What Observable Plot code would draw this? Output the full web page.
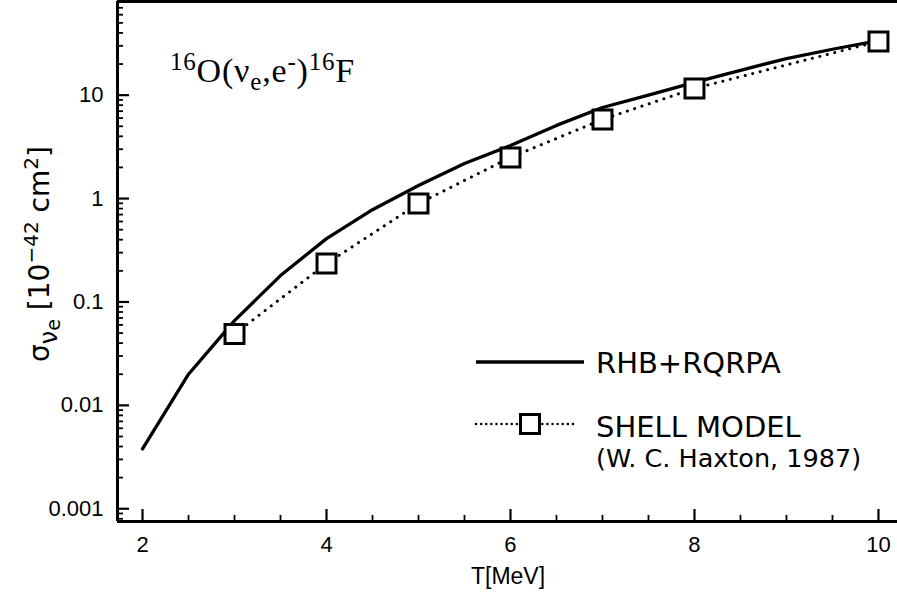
<!DOCTYPE html>
<html>
<head>
<meta charset="utf-8">
<script src="https://cdn.jsdelivr.net/npm/d3@7"></script>
<script src="https://cdn.jsdelivr.net/npm/@observablehq/plot@0.6"></script>
<style>
  html, body { margin: 0; padding: 0; background: #fff; }
  #chart svg { display: block; }
</style>
</head>
<body>
<div id="chart"></div>
<script>
// ---- data ----
const rhbT = [2, 2.5, 3, 3.5, 4, 4.5, 5, 5.5, 6, 6.5, 7, 7.5, 8, 8.5, 9, 9.5, 10];
const rhbSigma = [0.0038, 0.020, 0.066, 0.18, 0.41, 0.78, 1.34, 2.18, 3.26, 5.1, 7.6, 10.0, 13.3, 17.4, 22.6, 27.8, 33.6];
const shellT = [3, 4, 5, 6, 7, 8, 10];
const shellSigma = [0.049, 0.235, 0.895, 2.5, 5.82, 11.6, 33.1];

const xTicks = [2, 4, 6, 8, 10];
const xTickLabels = ["2", "4", "6", "8", "10"];
const xMinorTicks = [2.5, 3, 3.5, 4.5, 5, 5.5, 6.5, 7, 7.5, 8.5, 9, 9.5];
const yTicks = [0.001, 0.01, 0.1, 1, 10];
const yTickLabels = ["0.001", "0.01", "0.1", "1", "10"];
const yMinorTicks = [0.0008, 0.0009,
  0.002, 0.003, 0.004, 0.005, 0.006, 0.007, 0.008, 0.009,
  0.02, 0.03, 0.04, 0.05, 0.06, 0.07, 0.08, 0.09,
  0.2, 0.3, 0.4, 0.5, 0.6, 0.7, 0.8, 0.9,
  2, 3, 4, 5, 6, 7, 8, 9,
  20, 30, 40, 50, 60, 70, 80];

const xDomain = [1.728, 10.207];
const yDomain = [0.000753, 80.5];

const W = 897, H = 599, ML = 117, MR = 0, MT = 1, MB = 78;
const plotW = W - ML - MR, plotH = H - MT - MB;
const MAJOR = 12, MINOR = 6;
const TICKCOLOR = "black";

const rhb = rhbT.map((t, i) => ({T: t, sigma: rhbSigma[i]}));
const shell = shellT.map((t, i) => ({T: t, sigma: shellSigma[i]}));

const xFmt = d => xTickLabels[xTicks.indexOf(d)] ?? "";
const yFmt = d => yTickLabels[yTicks.findIndex(v => Math.abs(v - d) / v < 1e-9)] ?? "";

const chart = Plot.plot({
  width: W,
  height: H,
  marginLeft: ML,
  marginRight: MR,
  marginTop: MT,
  marginBottom: MB,
  style: {fontFamily: "'Liberation Sans', Arial, sans-serif", fontSize: "22px", background: "#fff", color: "#000"},
  x: {domain: xDomain},
  y: {type: "log", domain: yDomain},
  marks: [
    // tick labels
    Plot.axisX({ticks: xTicks, tickSize: 0, tickPadding: 15, tickFormat: xFmt, fontSize: 22, label: null}),
    Plot.axisY({ticks: yTicks, tickSize: 0, tickPadding: 14, tickFormat: yFmt, fontSize: 22, label: null}),
    // frame lines
    Plot.ruleX([xDomain[0]], {strokeWidth: 3}),
    Plot.ruleY([yDomain[0], yDomain[1]], {strokeWidth: 3}),
    // inward ticks
    Plot.ruleX(xTicks, {x: d => d, insetTop: plotH - MAJOR, stroke: TICKCOLOR, strokeWidth: 2.2}),
    Plot.ruleX(xMinorTicks, {x: d => d, insetTop: plotH - MINOR, stroke: TICKCOLOR, strokeWidth: 1.8}),
    Plot.ruleY(yTicks, {y: d => d, insetRight: plotW - MAJOR, stroke: TICKCOLOR, strokeWidth: 2.2}),
    Plot.ruleY(yMinorTicks, {y: d => d, insetRight: plotW - MINOR, stroke: TICKCOLOR, strokeWidth: 1.8}),
    // data
    Plot.line(rhb, {x: "T", y: "sigma", stroke: "black", strokeWidth: 3.3, strokeLinejoin: "round", strokeLinecap: "round"}),
    Plot.line(shell, {x: "T", y: "sigma", stroke: "black", strokeWidth: 3, strokeDasharray: "0.1 7.6", strokeLinecap: "round"}),
    Plot.dot(shell, {x: "T", y: "sigma", symbol: "square", r: 10.7, fill: "white", stroke: "black", strokeWidth: 3})
  ]
});
document.getElementById("chart").appendChild(chart);

const svg = d3.select(chart);

// reaction title
const title = svg.append("text")
  .attr("x", 170).attr("y", 82)
  .attr("text-anchor", "start")
  .attr("font-family", "'Liberation Serif', 'Times New Roman', serif")
  .attr("font-size", 34).attr("letter-spacing", 0.8).attr("fill", "black");
title.append("tspan").attr("font-size", 25).attr("dy", -12).text("16");
title.append("tspan").attr("dy", 12).text("O(ν");
title.append("tspan").attr("font-size", 25).attr("dy", 8).text("e");
title.append("tspan").attr("dy", -8).text(",e");
title.append("tspan").attr("font-size", 25).attr("dy", -12).text("-");
title.append("tspan").attr("dy", 12).text(")");
title.append("tspan").attr("font-size", 25).attr("dy", -12).text("16");
title.append("tspan").attr("dy", 12).text("F");

// y axis title
const yl = svg.append("text")
  .attr("transform", "translate(49,254) rotate(-90)")
  .attr("text-anchor", "middle")
  .attr("font-family", "'DejaVu Sans', sans-serif")
  .attr("font-size", 28).attr("fill", "black");
yl.append("tspan").text("σ");
yl.append("tspan").attr("font-size", 24).attr("dy", 8).text("ν");
yl.append("tspan").attr("font-size", 19).attr("dy", 3).text("e");
yl.append("tspan").attr("dy", -11).text(" [10");
yl.append("tspan").attr("font-size", 20).attr("dy", -11).text("−42");
yl.append("tspan").attr("dy", 11).text(" cm");
yl.append("tspan").attr("font-size", 20).attr("dy", -11).text("2");
yl.append("tspan").attr("dy", 11).text("]");

// x axis title
svg.append("text")
  .attr("x", 508).attr("y", 584)
  .attr("text-anchor", "middle")
  .attr("font-family", "'Liberation Sans', Arial, sans-serif")
  .attr("font-size", 23).attr("fill", "black")
  .text("T[MeV]");

// legend
const lg = svg.append("g")
  .attr("font-family", "'DejaVu Sans', sans-serif")
  .attr("text-anchor", "start")
  .attr("fill", "black");
lg.append("line").attr("x1", 476).attr("x2", 584).attr("y1", 362).attr("y2", 362)
  .attr("stroke", "black").attr("stroke-width", 3.3);
lg.append("text").attr("x", 596).attr("y", 373).attr("font-size", 29).text("RHB+RQRPA");
lg.append("line").attr("x1", 476).attr("x2", 578).attr("y1", 424).attr("y2", 424)
  .attr("stroke", "black").attr("stroke-width", 2.4)
  .attr("stroke-dasharray", "0.1 5").attr("stroke-linecap", "round");
lg.append("rect").attr("x", 520.5).attr("y", 414.5).attr("width", 19).attr("height", 19)
  .attr("fill", "white").attr("stroke", "black").attr("stroke-width", 3);
lg.append("text").attr("x", 596).attr("y", 437).attr("font-size", 29).text("SHELL MODEL");
lg.append("text").attr("x", 596).attr("y", 467).attr("font-size", 25.5).text("(W. C. Haxton, 1987)");
</script>
</body>
</html>
